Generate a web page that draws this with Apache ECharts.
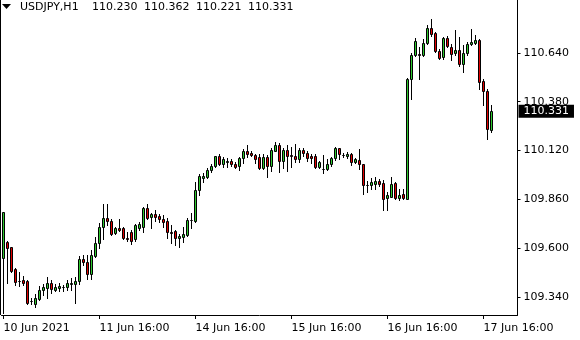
<!DOCTYPE html>
<html>
<head>
<meta charset="utf-8">
<script src="https://cdn.jsdelivr.net/npm/echarts@6/dist/echarts.min.js"></script>
<style>
html,body{margin:0;padding:0;background:#fff;}
#chart{width:580px;height:340px;}
</style>
</head>
<body>
<div id="chart"></div>
<script>
// Hourly bars (H1), first bar = 10 Jun 16:00
const days = ['10 Jun', '11 Jun', '14 Jun', '15 Jun', '16 Jun', '17 Jun', '18 Jun'];
const firstHour = 16;
const tickIndex = [0, 24, 48, 72, 96, 120];
const tickLabels = ['10 Jun 2021', '11 Jun 16:00', '14 Jun 16:00', '15 Jun 16:00', '16 Jun 16:00', '17 Jun 16:00'];
const priceTicks = [109.340, 109.600, 109.860, 110.120, 110.380, 110.640];
const headerSymbol = 'USDJPY,H1';
const headerOHLC = ['110.230', '110.362', '110.221', '110.331'];

const opens = [109.546,109.634,109.604,109.489,109.425,109.430,109.425,109.316,109.300,109.327,
109.377,109.386,109.414,109.377,109.386,109.391,109.395,109.411,109.407,109.423,
109.541,109.526,109.462,109.557,109.626,109.711,109.759,109.746,109.682,109.705,
109.706,109.654,109.688,109.649,109.709,109.713,109.815,109.768,109.780,109.771,
109.755,109.745,109.685,109.691,109.652,109.661,109.670,109.750,109.745,109.910,
109.975,109.981,110.015,110.038,110.091,110.047,110.059,110.064,110.048,110.039,
110.079,110.118,110.109,110.096,110.087,110.029,110.087,110.039,110.119,110.150,
110.066,110.123,110.095,110.093,110.075,110.123,110.105,110.093,110.093,110.034,
110.020,110.022,110.047,110.079,110.132,110.094,110.089,110.102,110.057,110.070,
110.047,109.936,109.935,109.943,109.958,109.947,109.867,109.872,109.947,109.869,
109.890,109.863,110.500,110.631,110.634,110.631,110.695,110.773,110.748,110.649,
110.617,110.720,110.672,110.641,110.654,110.583,110.641,110.686,110.695,110.707,
110.490,110.436,110.230];
const highs = [109.794,109.640,109.608,109.493,109.471,109.452,109.430,109.337,109.358,109.398,
109.407,109.448,109.433,109.409,109.413,109.404,109.430,109.441,109.445,109.558,
109.563,109.561,109.590,109.657,109.736,109.835,109.834,109.754,109.714,109.755,
109.713,109.688,109.697,109.727,109.741,109.821,109.834,109.786,109.803,109.780,
109.777,109.759,109.723,109.697,109.674,109.714,109.759,109.786,109.954,109.993,
109.999,110.025,110.047,110.093,110.100,110.087,110.079,110.073,110.061,110.087,
110.128,110.150,110.118,110.100,110.100,110.100,110.096,110.132,110.167,110.159,
110.132,110.150,110.140,110.153,110.132,110.132,110.118,110.100,110.100,110.064,
110.096,110.075,110.087,110.140,110.135,110.109,110.111,110.105,110.079,110.128,
110.051,109.956,109.974,109.979,109.970,109.961,109.899,109.979,109.952,109.913,
109.917,110.506,110.641,110.720,110.672,110.716,110.790,110.822,110.752,110.663,
110.725,110.730,110.689,110.761,110.725,110.681,110.698,110.766,110.737,110.713,
110.503,110.449,110.362];
const lows = [109.254,109.416,109.473,109.406,109.401,109.404,109.305,109.302,109.284,109.324,
109.350,109.334,109.363,109.372,109.373,109.373,109.377,109.377,109.309,109.409,
109.509,109.438,109.436,109.551,109.601,109.647,109.723,109.670,109.675,109.694,
109.649,109.638,109.620,109.638,109.695,109.688,109.755,109.706,109.745,109.741,
109.714,109.652,109.626,109.617,109.608,109.634,109.667,109.709,109.738,109.883,
109.951,109.975,110.007,110.034,110.043,110.034,110.034,110.039,110.025,110.016,
110.052,110.087,110.091,110.052,110.022,110.022,109.981,110.011,110.118,110.007,
110.025,110.013,110.034,110.057,110.061,110.093,110.064,110.052,110.029,110.029,
109.999,110.016,110.039,110.070,110.075,110.087,110.082,110.043,110.052,110.020,
109.891,109.899,109.917,109.917,109.931,109.802,109.802,109.870,109.863,109.855,
109.863,109.862,110.396,110.624,110.503,110.624,110.689,110.730,110.645,110.606,
110.609,110.672,110.601,110.631,110.570,110.538,110.627,110.681,110.689,110.449,
110.364,110.183,110.221];
const closes = [109.794,109.603,109.481,109.421,109.423,109.416,109.309,109.318,109.333,109.377,
109.393,109.413,109.381,109.393,109.398,109.393,109.413,109.413,109.425,109.541,
109.524,109.462,109.563,109.629,109.714,109.761,109.746,109.675,109.706,109.699,
109.652,109.651,109.638,109.723,109.727,109.815,109.762,109.780,109.768,109.754,
109.741,109.684,109.683,109.652,109.666,109.674,109.750,109.752,109.910,109.984,
109.984,110.016,110.038,110.091,110.047,110.073,110.064,110.047,110.034,110.079,
110.118,110.103,110.096,110.075,110.029,110.087,110.039,110.123,110.150,110.066,
110.123,110.093,110.093,110.075,110.123,110.105,110.082,110.082,110.034,110.057,
110.023,110.047,110.079,110.132,110.100,110.098,110.102,110.057,110.075,110.047,
109.936,109.934,109.952,109.958,109.943,109.863,109.885,109.940,109.869,109.885,
109.867,110.503,110.631,110.702,110.631,110.693,110.773,110.743,110.649,110.613,
110.720,110.675,110.636,110.654,110.583,110.641,110.686,110.698,110.711,110.485,
110.436,110.233,110.331];

// hourly category labels (129 slots incl. chart shift space)
const times = [];
for (let d = 0; d < days.length && times.length < 129; d++) {
  for (let h = (d === 0 ? firstHour : 0); h < 24 && times.length < 129; h++) {
    times.push(days[d] + ' ' + String(h).padStart(2, '0') + ':00');
  }
}
const ohlc = opens.map((o, i) => [i, o, closes[i], lows[i], highs[i]]);
const last = closes[closes.length - 1];
const FONT = 'DejaVu Sans';
const headerX = [92, 144, 196, 248];
const UP = '#2ec82e', DOWN = '#e00000';

function renderCandle(params, api) {
  const i = api.value(0);
  const o = api.value(1), c = api.value(2), l = api.value(3), h = api.value(4);
  const pO = api.coord([i, o]), pC = api.coord([i, c]);
  const pL = api.coord([i, l]), pH = api.coord([i, h]);
  const cx = Math.floor(pO[0]);
  const top = Math.round(Math.min(pO[1], pC[1])) + 0.5;
  const bot = Math.round(Math.max(pO[1], pC[1])) + 0.5;
  return {
    type: 'group',
    children: [
      {type: 'line', shape: {x1: cx + 0.5, y1: Math.round(pH[1]), x2: cx + 0.5, y2: Math.round(pL[1]) + 1},
        style: {stroke: '#000', lineWidth: 1}},
      {type: 'rect', shape: {x: cx - 0.5, y: top, width: 2, height: Math.max(bot - top, 0)},
        style: {fill: c >= o ? UP : DOWN, stroke: '#000', lineWidth: 1}}
    ]
  };
}

const chart = echarts.init(document.getElementById('chart'), null, {renderer: 'canvas'});
chart.setOption({
  animation: false,
  backgroundColor: '#fff',
  grid: {left: 1.5, right: 62.5, top: 0, bottom: 25},
  xAxis: {
    type: 'category',
    data: times,
    boundaryGap: true,
    axisLine: {show: true, lineStyle: {color: '#000', width: 1}},
    axisTick: {show: true, alignWithLabel: true, length: 4,
      interval: (i) => tickIndex.indexOf(i) >= 0, lineStyle: {color: '#000'}},
    axisLabel: {show: true, interval: (i) => tickIndex.indexOf(i) >= 0,
      formatter: (v, i) => tickLabels[tickIndex.indexOf(i)] || '',
      align: 'left', color: '#000', fontFamily: FONT, fontSize: 11, margin: 8},
    splitLine: {show: false}
  },
  yAxis: {
    type: 'value',
    position: 'right',
    min: 109.244,
    max: 110.922,
    axisLine: {show: true, lineStyle: {color: '#000', width: 1}},
    axisTick: {show: true, length: 3, customValues: priceTicks, lineStyle: {color: '#000'}},
    axisLabel: {show: true, customValues: priceTicks, formatter: (v) => v.toFixed(3),
      color: '#000', fontFamily: FONT, fontSize: 11, margin: 6},
    splitLine: {show: false}
  },
  series: [{
    type: 'custom',
    data: ohlc,
    encode: {x: 0, y: [1, 2, 3, 4]},
    renderItem: renderCandle,
    clip: false,
    markLine: {
      silent: true,
      symbol: ['none', 'none'],
      lineStyle: {color: 'rgba(0,0,0,0)', width: 1, type: 'solid'},
      label: {show: true, position: 'end', distance: 1, formatter: last.toFixed(3),
        backgroundColor: '#000', color: '#fff', fontFamily: FONT, fontSize: 11,
        padding: [1, 5, 1, 5]},
      data: [{yAxis: last}]
    }
  }],
  graphic: [
    {type: 'line', shape: {x1: 0.5, y1: 0, x2: 0.5, y2: 315}, style: {stroke: '#000', lineWidth: 1}},
    {type: 'polygon', shape: {points: [[2, 4], [11, 4], [6.5, 9]]}, style: {fill: '#000'}},
    {type: 'text', x: 20, y: 7, style: {text: headerSymbol, fill: '#000', font: '11px "DejaVu Sans"', verticalAlign: 'middle'}}
  ].concat(headerOHLC.map((t, i) => ({
    type: 'text', x: headerX[i], y: 7,
    style: {text: t, fill: '#000', font: '11px "DejaVu Sans"', verticalAlign: 'middle'}
  })))
});
</script>
</body>
</html>
